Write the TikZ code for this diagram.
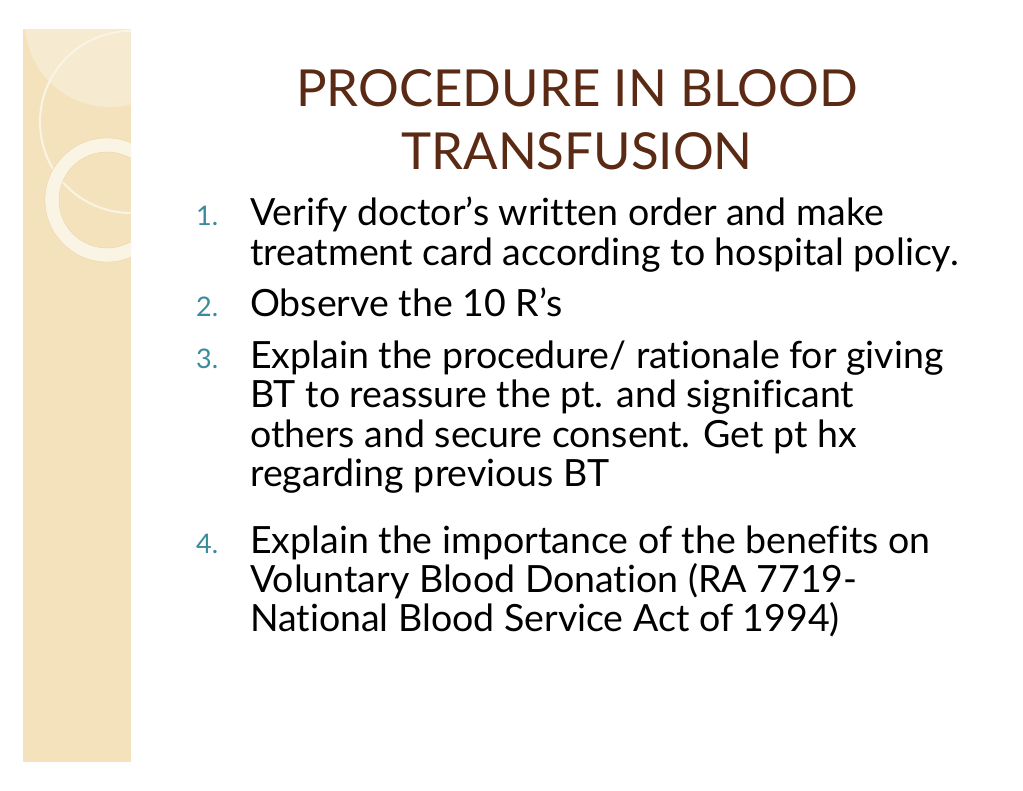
\documentclass[tikz,border=0pt]{standalone}
\usepackage{fontspec}
\setmainfont[Ligatures={NoCommon}]{Lato}
\begin{document}
\begin{tikzpicture}[x=1pt,y=-1pt,
  ln/.style={anchor=base west,inner sep=0pt,font=\fontsize{37.5}{37.5}\selectfont,text=black},
  num/.style={anchor=base west,inner sep=0pt,font=\fontsize{27}{27}\selectfont,text=numc},
  ttl/.style={anchor=base,inner sep=0pt,font=\fontsize{51}{51}\selectfont,text=ttlc}]
\definecolor{numc}{HTML}{3A8C9C}
\definecolor{ttlc}{HTML}{5A2A14}
\definecolor{strip}{HTML}{F3E2BC}
\useasboundingbox (0,0) rectangle (1023,791);
\fill[white] (0,0) rectangle (1023,791);
\begin{scope}
\clip (23,29) rectangle (131,762);
\fill[strip] (23,29) rectangle (131,762);
\fill[white,opacity=0.3] (110,22) circle (85);
\draw[white!60!strip,line width=2pt] (131,122) circle (91);
\fill[white!60!strip,even odd rule] (107,200) circle (62) (107,200) circle (48);
\draw[strip!80!brown,line width=0.3pt] (107,200) circle (62) (107,200) circle (48);
\end{scope}
\node[ttl] (t1) at (577,107) {PROCEDURE IN BLOOD};
\node[ttl] (t2) at (577,170) {TRANSFUSION};
\node[num] (n1) at (196,226) {1.};
\node[ln] (a1) at (250,226) {Verify doctor’s written order and make};
\node[ln] (a2) at (250,266) {treatment card according to hospital policy.};
\node[num] (n2) at (196,317) {2.};
\node[ln] (b1) at (250,317) {Observe the 10 R’s};
\node[num] (n3) at (196,369) {3.};
\node[ln] (c1) at (250,369) {Explain the procedure/ rationale for giving};
\node[ln] (c2) at (250,408) {BT to reassure the pt. and significant};
\node[ln] (c3) at (250,447) {others and secure consent. Get pt hx};
\node[ln] (c4) at (250,486) {regarding previous BT};
\node[num] (n4) at (196,553) {4.};
\node[ln] (d1) at (250,553) {Explain the importance of the benefits on};
\node[ln] (d2) at (250,592) {Voluntary Blood Donation (RA 7719-};
\node[ln] (d3) at (250,631) {National Blood Service Act of 1994)};
\end{tikzpicture}
\end{document}
